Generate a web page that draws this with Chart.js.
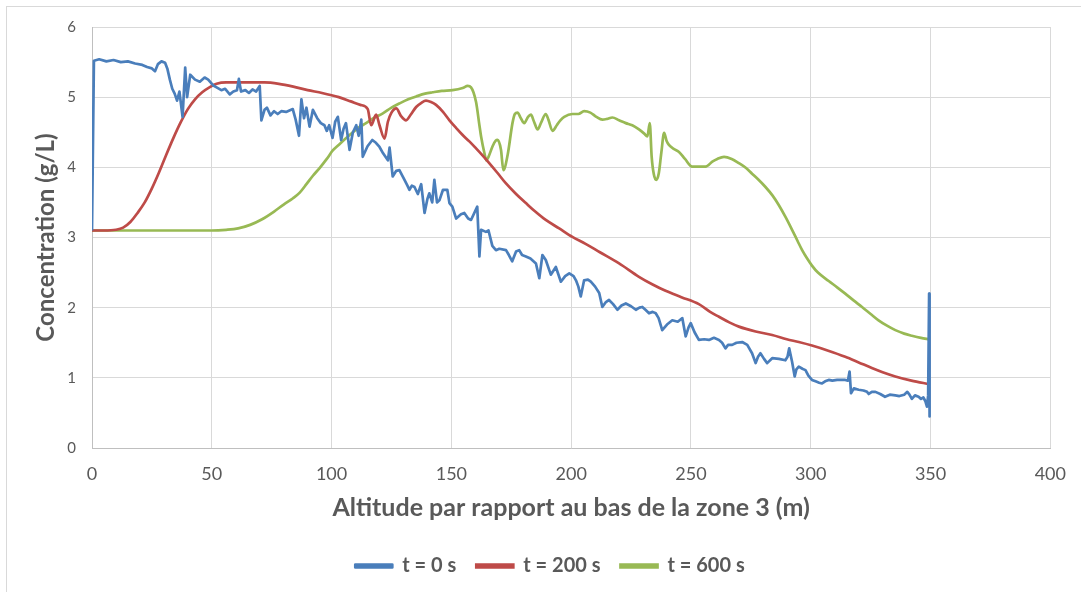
<!DOCTYPE html>
<html>
<head>
<meta charset="utf-8">
<script src="https://cdn.jsdelivr.net/npm/chart.js@4/dist/chart.umd.min.js"></script>
<style>
  html, body { margin: 0; padding: 0; background: #ffffff; overflow: hidden; }
  #wrap { position: relative; width: 1081px; height: 592px; }
  #frame { position: absolute; left: 6px; top: 6px; width: 2000px; height: 2000px; border: 1px solid #d9d9d9; pointer-events: none; }
  canvas { position: absolute; left: 0; top: 0; }
</style>
</head>
<body>
<div id="wrap">
  <div id="frame"></div>
  <canvas id="c" width="1081" height="592"></canvas>
</div>
<script>
const seriesNames = ["t = 0 s", "t = 200 s", "t = 600 s"];
const xTicks = [0, 50, 100, 150, 200, 250, 300, 350, 400];
const yTicks = [0, 1, 2, 3, 4, 5, 6];

const blueX = [0,0.8,3,6,9,12,15,18,21,23,25,26.3,27.5,29,30.5,31.5,32.5,33.5,34.5,35.5,36.5,37.8,38.9,39.7,41,43,45,47,48.5,50.5,52,54,55.5,57.5,59,60.5,61.3,62.2,64,65.5,67,68.5,70,70.7,72,73,74.5,76,77.5,79,81,83.8,85,86.4,87.4,88.5,89.5,90.8,92.2,94,95.5,97,98,99,100.4,101.5,102.6,104,105,106,107.5,108.9,110.3,111.3,112.4,113,115,117,118.5,120,121.5,123.5,124.2,125.5,127,128.3,130,131.5,132.5,133.5,134.6,136,137.4,138.8,140,140.8,142,142.9,144,145,146.5,148.3,149.2,150.4,152,154,155.4,157,158.2,160.8,161.7,162.4,164.4,165.5,167.1,168.6,170,172.8,174,175.4,177,178.3,179.5,181.1,183,185.3,186.7,188,189.4,191.5,193.6,195.7,197.5,199.2,201,202,203,204,205.4,207,208.2,210,211.7,213,214.5,215.8,217.5,219.3,221,222.8,225,227,228.5,229.7,231,232.5,234,235.3,236.5,238,240,242.2,244.5,246.4,247.8,249,249.9,251.5,253.3,255.5,257.5,259.6,261.7,263,264.4,265.5,267.2,269,271.4,273.5,275.5,277,278,279,280.5,281.8,283.9,286.7,289.4,290.3,291,292.2,293.3,294,295,296.5,297.8,299,300.5,302,303.5,304.7,306,307.5,309,311,314.4,315.5,316.2,316.8,318,320,322,323.5,324.2,325.5,327,329,331,333,335.3,337,339,340.3,341.2,342.2,343.5,345,346,347,347.8,348.5,349,349.4,349.6];
const blueY = [3.1,5.52,5.54,5.51,5.53,5.5,5.51,5.48,5.46,5.43,5.41,5.37,5.47,5.51,5.49,5.4,5.25,5.12,5.05,4.95,5.08,4.72,5.42,5,5.32,5.25,5.22,5.28,5.25,5.17,5.14,5.1,5.12,5.04,5.08,5.1,5.26,5.08,5.1,5.06,5.11,5.08,5.16,4.67,4.82,4.85,4.74,4.8,4.76,4.8,4.79,4.83,4.68,4.45,4.97,4.7,4.85,4.58,4.82,4.7,4.63,4.6,4.52,4.6,4.42,4.65,4.72,4.39,4.55,4.63,4.25,4.5,4.6,4.45,4.68,4.15,4.3,4.39,4.35,4.29,4.2,4.1,4.28,3.87,3.95,3.96,3.85,3.75,3.68,3.74,3.72,3.62,3.76,3.35,3.55,3.63,3.5,3.82,3.5,3.53,3.68,3.68,3.49,3.44,3.27,3.33,3.35,3.27,3.25,3.44,2.73,3.11,3.08,3.1,2.88,2.82,2.84,2.82,2.75,2.66,2.8,2.82,2.75,2.73,2.7,2.63,2.42,2.75,2.68,2.47,2.58,2.37,2.45,2.49,2.45,2.39,2.3,2.16,2.39,2.4,2.37,2.3,2.21,2.01,2.08,2.11,2.05,1.97,2.03,2.06,2.02,1.97,2,2.01,1.97,1.92,1.94,1.92,1.85,1.68,1.76,1.82,1.8,1.85,1.59,1.72,1.78,1.65,1.54,1.55,1.54,1.57,1.54,1.5,1.42,1.47,1.47,1.5,1.51,1.47,1.35,1.21,1.3,1.35,1.27,1.21,1.28,1.27,1.25,1.3,1.42,1.23,1.02,1.12,1.16,1.13,1.11,1.03,0.97,0.95,0.93,0.92,0.95,0.97,0.96,0.97,0.97,0.96,1.09,0.78,0.85,0.83,0.82,0.8,0.77,0.8,0.8,0.77,0.73,0.76,0.75,0.74,0.76,0.8,0.76,0.7,0.75,0.73,0.7,0.72,0.67,0.59,0.75,2.2,0.45];

const redX = [0,5,10,13,16,19,22,25,28,31,34,37,40,43,46,49,52,56,65,72,78,84,90,96,103,108,112,115.1,116.5,118.6,120,122.1,123.5,125,127,129,131.1,133,135.3,137.5,139.4,141.5,143.6,146.5,149.2,152,154.7,157.5,160.3,163,165.8,169,172.8,177,181.1,185,189.4,195,200.5,206,212,220,228.3,234,239.4,246,253.3,258,261.7,266,270,277,283.9,290,295,300.5,307,314.4,320,325.5,330,335.3,342,349.5];
const redY = [3.1,3.1,3.11,3.14,3.22,3.35,3.5,3.7,3.93,4.18,4.42,4.64,4.83,4.97,5.07,5.14,5.19,5.21,5.21,5.21,5.19,5.15,5.1,5.06,5,4.94,4.89,4.83,4.6,4.75,4.6,4.41,4.65,4.78,4.84,4.73,4.67,4.75,4.86,4.92,4.95,4.93,4.89,4.79,4.67,4.56,4.46,4.37,4.27,4.17,4.06,3.93,3.77,3.62,3.49,3.37,3.25,3.13,3.01,2.91,2.79,2.63,2.44,2.33,2.24,2.15,2.05,1.94,1.87,1.79,1.73,1.66,1.61,1.55,1.51,1.46,1.39,1.3,1.22,1.14,1.08,1.02,0.96,0.91];

const greenX = [0,50,56,61,66,71,76,80,83.9,86.7,89.5,92.2,95,98,100.5,103.3,107.5,111,114.4,118,121.4,125,128.3,132,135.3,139,142.2,146,150.5,154.7,156.8,158.2,160.3,161.7,162.4,163.8,164.6,165.5,167.2,168.5,169.3,170.7,171.7,173.5,175.5,176.5,177.6,179,180.4,182,183.2,184.5,186,187.5,189.4,190.5,192.2,194,195.5,197.1,200.5,203,205.4,208,210.5,213,215,217.2,220,222.8,225.5,228.3,230.5,231.8,232.8,233.6,234.5,235.5,236.6,237.6,238.8,239.8,240.8,243,245,247.5,250.5,253,256.1,258.9,261,263.8,267,270,273,275.5,278,281.1,284,286.7,289.5,292.2,294.5,296.4,298.5,300.5,303,307.5,311,314.4,318,321.4,325,328.3,332,335.3,339,342.2,346,349.5];
const greenY = [3.1,3.1,3.11,3.13,3.18,3.26,3.37,3.47,3.56,3.64,3.76,3.88,3.99,4.12,4.24,4.33,4.46,4.56,4.63,4.71,4.77,4.85,4.91,4.97,5.01,5.05,5.07,5.09,5.1,5.13,5.16,5.14,4.93,4.6,4.44,4.2,4.1,4.15,4.3,4.38,4.39,4.25,3.96,4.18,4.63,4.76,4.78,4.7,4.63,4.72,4.75,4.65,4.54,4.64,4.76,4.68,4.52,4.6,4.67,4.72,4.76,4.76,4.8,4.78,4.72,4.68,4.69,4.71,4.67,4.63,4.6,4.54,4.48,4.44,4.63,4.15,3.9,3.82,3.92,4.2,4.49,4.38,4.32,4.26,4.22,4.12,4.01,4.01,4.01,4.08,4.12,4.15,4.12,4.06,3.99,3.91,3.83,3.72,3.6,3.46,3.29,3.11,2.95,2.82,2.7,2.6,2.5,2.38,2.29,2.2,2.1,2.01,1.91,1.82,1.74,1.68,1.63,1.6,1.57,1.55];

const colors = ["#4a7ebb", "#be4b48", "#98b954"];
const FONT = "Lato, 'Open Sans', 'DejaVu Sans', sans-serif";
const TXT = "#595959";

function pts(xs, ys) { return xs.map((x, i) => ({x: x, y: ys[i]})); }

const datasets = [
  { label: seriesNames[0], data: pts(blueX, blueY), borderColor: colors[0], backgroundColor: colors[0], borderWidth: 2.7, pointRadius: 0, tension: 0, borderJoinStyle: 'round' },
  { label: seriesNames[1], data: pts(redX, redY), borderColor: colors[1], backgroundColor: colors[1], borderWidth: 2.7, pointRadius: 0, cubicInterpolationMode: 'monotone' },
  { label: seriesNames[2], data: pts(greenX, greenY), borderColor: colors[2], backgroundColor: colors[2], borderWidth: 2.7, pointRadius: 0, cubicInterpolationMode: 'monotone' }
];

const legendShift = {
  id: 'legendShift',
  afterLayout(chart) {
    const lg = chart.legend;
    if (lg) { lg.left += 24; lg.right += 24; }
  }
};

new Chart(document.getElementById('c'), {
  type: 'line',
  data: { datasets: datasets },
  plugins: [legendShift],
  options: {
    responsive: false,
    animation: false,
    layout: { padding: { top: 27, right: 29, bottom: 6, left: 0 } },
    plugins: {
      legend: {
        position: 'bottom',
        labels: {
          boxWidth: 37, boxHeight: 3, padding: 20,
          color: TXT,
          font: { family: FONT, size: 20, weight: 'bold' }
        }
      },
      tooltip: { enabled: false }
    },
    scales: {
      x: {
        type: 'linear', min: 0, max: 400,
        afterBuildTicks: s => { s.ticks = xTicks.map(v => ({value: v})); },
        afterFit: s => { s.height = 88; },
        grid: { color: '#d9d9d9', drawTicks: false },
        border: { color: '#bfbfbf' },
        ticks: { color: TXT, padding: 15, font: { family: FONT, size: 18 } },
        title: { display: true, text: 'Altitude par rapport au bas de la zone 3 (m)', color: TXT,
                 font: { family: FONT, size: 25, weight: 'bold' }, padding: { top: 0, bottom: 13 } }
      },
      y: {
        type: 'linear', min: 0, max: 6,
        afterBuildTicks: s => { s.ticks = yTicks.map(v => ({value: v})); },
        afterFit: s => { s.width = 92; },
        grid: { color: '#d9d9d9', drawTicks: false },
        border: { color: '#bfbfbf' },
        ticks: { color: TXT, padding: 16, font: { family: FONT, size: 15 } },
        title: { display: true, text: 'Concentration (g/L)', color: TXT,
                 font: { family: FONT, size: 24, weight: 'bold' }, padding: { top: 32, bottom: 0 } }
      }
    }
  }
});
</script>
</body>
</html>
